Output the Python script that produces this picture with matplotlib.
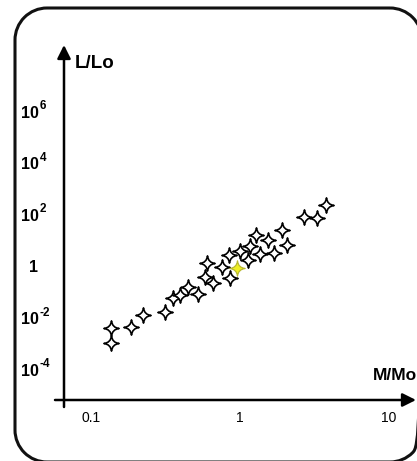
import matplotlib
matplotlib.use("Agg")
import matplotlib.pyplot as plt
import numpy as np
from matplotlib.patches import PathPatch
from matplotlib.path import Path
from matplotlib.transforms import blended_transform_factory, offset_copy

# main-sequence stars (solar units)
mass = [0.135, 0.135, 0.184, 0.221, 0.313, 0.352, 0.394, 0.449, 0.524, 0.597,
        0.581, 0.661, 0.753, 0.843, 0.863, 1.0, 1.137, 1.168, 1.282, 1.364,
        1.551, 1.694, 1.909, 2.073, 2.698, 3.316, 3.795]
lum = [4.6e-3, 1.2e-3, 5.3e-3, 0.015, 0.020, 0.067, 0.090, 0.19, 0.10, 1.5,
       0.46, 0.26, 1.1, 3.2, 0.40, 4.6, 2.0, 7.1, 19, 3.5,
       12, 3.7, 30, 8.0, 97, 84, 280]
# the sun (yellow star)
sun_mass = [0.96]
sun_lum = [1.0]

x_ticks = [0.1, 1, 10]
x_labels = ['0.1', '1', '10']
y_tick_exp = [-4, -2, 0, 2, 4, 6]   # labels are 10^e, "1" for e=0

plt.rcParams['font.family'] = ['Liberation Sans', 'DejaVu Sans']

W, H = 417, 461          # figure size in pixels
X1, XDEC = 240, 148.5    # pixel column of M=1, pixels per decade
Y1, YDEC = 268, 25.8     # pixel row of L=1, pixels per decade

fig = plt.figure(figsize=(W / 100, H / 100), dpi=100)
ax = fig.add_axes([0, 0, 1, 1])
ax.set_xscale('log')
ax.set_yscale('log')
ax.set_xlim(10 ** (-X1 / XDEC), 10 ** ((W - X1) / XDEC))
ax.set_ylim(10 ** ((Y1 - H) / YDEC), 10 ** (Y1 / YDEC))
ax.axis('off')

# 4-pointed sparkle marker
k = 0.1
star = Path([(0, 1), (k, k), (1, 0), (k, -k), (0, -1), (-k, -k), (-1, 0), (-k, k), (0, 1), (0, 1)],
            [Path.MOVETO] + [Path.CURVE3] * 8 + [Path.CLOSEPOLY])

ax.plot(mass, lum, ls='none', marker=star, ms=11, mfc='white', mec='black', mew=1.2, zorder=3)
ax.plot(sun_mass, sun_lum, ls='none', marker=star, ms=11, mfc='#eeee22', mec='#b8b830', mew=0.9, zorder=4)

# axes drawn as arrows (figure fraction)
def fx(px):
    return px / W

def fy(py):
    return 1 - py / H

arrow = dict(arrowstyle='-|>', lw=1.8, color='black', mutation_scale=20, shrinkA=0, shrinkB=0)
ax.annotate('', xy=(fx(64), fy(45)), xytext=(fx(64), fy(407)), xycoords='figure fraction', arrowprops=arrow)
ax.annotate('', xy=(fx(416), fy(400)), xytext=(fx(55), fy(400)), xycoords='figure fraction', arrowprops=arrow)

# tick labels
xt = blended_transform_factory(ax.transData, fig.transFigure)
for v, s in zip(x_ticks, x_labels):
    ax.text(v, fy(418), s, transform=xt, ha='center', va='center', fontsize=10)

yt = blended_transform_factory(fig.transFigure, ax.transData)
sup = offset_copy(yt, fig=fig, x=0, y=7, units='dots')
for e in y_tick_exp:
    if e == 0:
        ax.text(fx(33), 1, '1', transform=yt, ha='center', va='center', fontsize=11.5, fontweight='bold')
        continue
    ax.text(fx(21), 10.0 ** e, '10', transform=yt, ha='left', va='center', fontsize=11.5, fontweight='bold')
    ax.text(fx(40), 10.0 ** e, str(e), transform=sup, ha='left', va='center', fontsize=8.5, fontweight='bold')

ax.text(fx(75), fy(64), 'L/Lo', transform=fig.transFigure, ha='left', va='center',
        fontsize=13.5, fontweight='bold')
ax.text(fx(373), fy(376), 'M/Mo', transform=fig.transFigure, ha='left', va='center',
        fontsize=12.5, fontweight='bold')

# rounded frame, built from circular arcs (pixel units, y down)
def rounded_rect(left, top, right, bottom, r):
    corners = [((right - r, top + r), -90, 0), ((right - r, bottom - r), 0, 90),
               ((left + r, bottom - r), 90, 180), ((left + r, top + r), 180, 270)]
    verts, codes = [], []
    for (cx, cy), t1, t2 in corners:
        arc = Path.arc(t1, t2)
        v = arc.vertices * r + [cx, cy]
        c = list(arc.codes)
        c[0] = Path.LINETO if verts else Path.MOVETO
        verts.extend(v.tolist())
        codes.extend(c)
    verts.append(verts[0])
    codes.append(Path.CLOSEPOLY)
    v = np.array(verts)
    # pixel (y down) -> inches (y up)
    v = np.column_stack([v[:, 0] / 100, (H - v[:, 1]) / 100])
    return Path(v, codes)

frame = PathPatch(rounded_rect(15, 8, 422, 462, 32), transform=fig.dpi_scale_trans,
                  fill=False, lw=2.2, ec='#111111')
fig.patches.append(frame)

fig.savefig('out.png', dpi=100)
